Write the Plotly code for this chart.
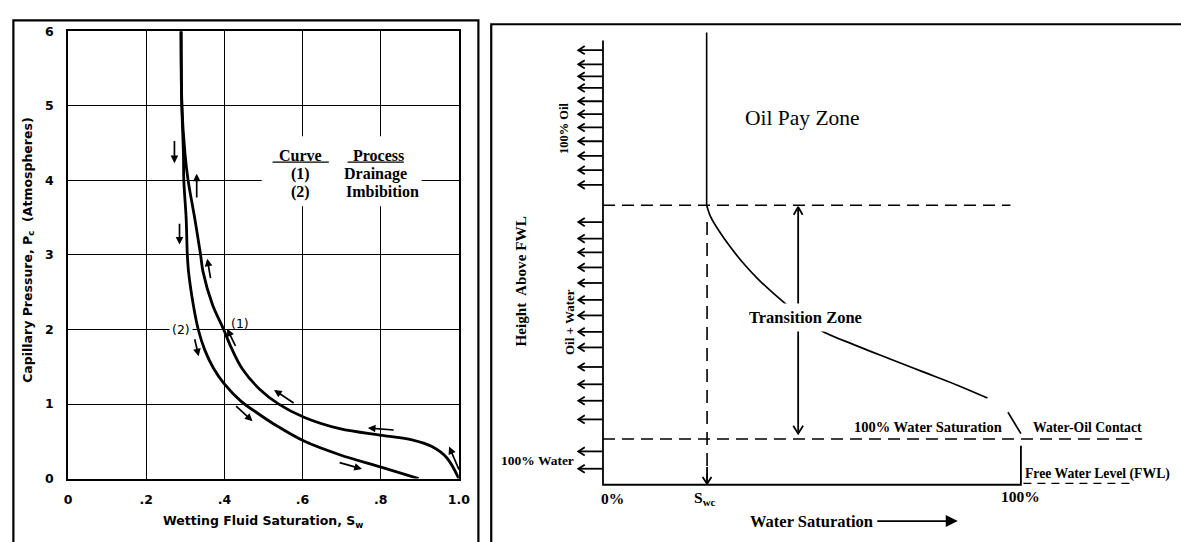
import math
import plotly.graph_objects as go

W, H = 1181, 542

# ---------------- Left panel: capillary pressure hysteresis ----------------
drain_sw = [0.289, 0.291, 0.299, 0.307, 0.324, 0.339, 0.345, 0.369, 0.398, 0.418, 0.446,
            0.490, 0.539, 0.605, 0.695, 0.803, 0.880, 0.931, 0.969, 1.000]
drain_pc = [6.0, 5.0, 4.36, 4.0, 3.49, 3.0, 2.78, 2.34, 2.0, 1.75, 1.47,
            1.20, 1.0, 0.82, 0.67, 0.58, 0.52, 0.43, 0.28, 0.0]

imb_sw = [0.289, 0.291, 0.295, 0.296, 0.302, 0.305, 0.308, 0.320, 0.333, 0.350, 0.372, 0.398,
          0.442, 0.484, 0.527, 0.605, 0.695, 0.803, 0.897]
imb_pc = [6.0, 5.0, 4.36, 4.0, 3.49, 3.0, 2.78, 2.34, 2.0, 1.72, 1.48, 1.28,
          1.04, 0.88, 0.73, 0.50, 0.32, 0.15, 0.0]

# direction arrows along the curves (tail -> head)
dir_tail_sw = [0.272, 0.329, 0.285, 0.365, 0.323, 0.430, 0.426, 0.581, 0.837, 0.691, 1.002]
dir_tail_pc = [4.55, 3.75, 3.44, 2.67, 1.89, 1.76, 0.99, 1.00, 0.65, 0.22, 0.10]
dir_head_sw = [0.272, 0.329, 0.285, 0.356, 0.334, 0.407, 0.472, 0.527, 0.767, 0.752, 0.975]
dir_head_pc = [4.23, 4.09, 3.14, 2.95, 1.64, 2.01, 0.77, 1.19, 0.68, 0.13, 0.43]

left_tick_vals = [0, 0.2, 0.4, 0.6, 0.8, 1.0]
left_tick_text = ["0", ".2", ".4", ".6", ".8", "1.0"]
pc_tick_vals = [0, 1, 2, 3, 4, 5, 6]

# ---------------- Right panel: saturation vs height ----------------
swc = 0.248
swc_dash_top = 59.1
swc_line_top = 101.8
axis_top_h = 100.0
h_transition_top = 62.9
h_woc = 10.3
top_dash_end_sw = 0.975
woc_dash_end_sw = 1.29
fwl_stub_top = 8.8
fwl_dash_sw = [1.006, 1.262]
fwl_dash_h = 0.3
zone_arrow_sw = 0.467
zone_arrow_top = 62.5
zone_arrow_bottom = 11.5

trans_sw = [0.248, 0.258, 0.277, 0.303, 0.339, 0.374, 0.437, 0.516, 0.609, 0.687, 0.766, 0.845, 0.920]
trans_h = [62.9, 60.2, 57.2, 53.7, 49.5, 46.0, 40.7, 35.0, 31.2, 28.3, 25.4, 22.5, 19.5]
trans_end_sw = [0.969, 1.0]
trans_end_h = [16.3, 11.5]

oil_arrow_h = [97.8, 94.6, 91.9, 89.3, 86.3, 83.4, 80.4, 77.3, 74.0, 70.8, 67.5]
mixed_arrow_h = [59.1, 55.4, 52.3, 48.9, 45.4, 41.6, 38.1, 34.4, 30.9, 26.5, 22.6, 18.9, 14.7]
water_arrow_h = [7.5, 3.6]
side_arrow_head_sw = -0.059

# ---------------- geometry ----------------
XL0, SXL, YL0, SYL = 65.0, 395.7, 484.0, 76.67   # left panel pixel mapping
XR0, SXR, YR0, SYR = 606.7, 423.3, 490.3, 4.57   # right panel pixel mapping


def P(px, py):
    return px / W, 1 - py / H


def vhead(xt, yt, xh, yh, length, half, stem=True):
    ptx, pty = xt * SXR, -yt * SYR
    phx, phy = xh * SXR, -yh * SYR
    dx, dy = phx - ptx, phy - pty
    n = math.hypot(dx, dy)
    ux, uy = dx / n, dy / n
    bx, by = phx - ux * length, phy - uy * length
    nx, ny = -uy, ux
    a1 = ((bx + nx * half) / SXR, -(by + ny * half) / SYR)
    a2 = ((bx - nx * half) / SXR, -(by - ny * half) / SYR)
    xs, ys = [], []
    if stem:
        xs += [xt, xh, None]
        ys += [yt, yh, None]
    xs += [a1[0], xh, a2[0], None]
    ys += [a1[1], yh, a2[1], None]
    return xs, ys


fig = go.Figure()
BLK = "black"

# left curves
fig.add_trace(go.Scatter(x=drain_sw, y=drain_pc, mode="lines", xaxis="x", yaxis="y",
                         line=dict(color=BLK, width=2.8, shape="spline", smoothing=1.0),
                         hoverinfo="skip", showlegend=False))
fig.add_trace(go.Scatter(x=imb_sw, y=imb_pc, mode="lines", xaxis="x", yaxis="y",
                         line=dict(color=BLK, width=2.8, shape="spline", smoothing=1.0),
                         hoverinfo="skip", showlegend=False))

# right: axis frame (left axis, bottom axis, 100% stub)
fig.add_trace(go.Scatter(x=[0, 0, 1, 1], y=[axis_top_h, 0, 0, fwl_stub_top], mode="lines",
                         xaxis="x2", yaxis="y2", line=dict(color=BLK, width=1.8),
                         hoverinfo="skip", showlegend=False))
# Swc solid line in the oil zone
fig.add_trace(go.Scatter(x=[swc, swc], y=[swc_line_top, h_transition_top], mode="lines",
                         xaxis="x2", yaxis="y2", line=dict(color=BLK, width=1.6),
                         hoverinfo="skip", showlegend=False))
# transition curve
fig.add_trace(go.Scatter(x=trans_sw, y=trans_h, mode="lines", xaxis="x2", yaxis="y2",
                         line=dict(color=BLK, width=1.7, shape="spline", smoothing=1.0),
                         hoverinfo="skip", showlegend=False))
fig.add_trace(go.Scatter(x=trans_end_sw, y=trans_end_h, mode="lines", xaxis="x2", yaxis="y2",
                         line=dict(color=BLK, width=1.7), hoverinfo="skip", showlegend=False))
# dashed lines
DASH = "12px,7px"
fig.add_trace(go.Scatter(x=[0, top_dash_end_sw], y=[h_transition_top, h_transition_top],
                         mode="lines", xaxis="x2", yaxis="y2",
                         line=dict(color=BLK, width=1.6, dash=DASH),
                         hoverinfo="skip", showlegend=False))
fig.add_trace(go.Scatter(x=[0, woc_dash_end_sw], y=[h_woc, h_woc], mode="lines",
                         xaxis="x2", yaxis="y2", line=dict(color=BLK, width=1.6, dash=DASH),
                         hoverinfo="skip", showlegend=False))
fig.add_trace(go.Scatter(x=[swc + 0.001, swc + 0.001], y=[swc_dash_top, 1.0], mode="lines",
                         xaxis="x2", yaxis="y2", line=dict(color=BLK, width=1.6, dash="13px,8px"),
                         hoverinfo="skip", showlegend=False))
fig.add_trace(go.Scatter(x=fwl_dash_sw, y=[fwl_dash_h, fwl_dash_h], mode="lines",
                         xaxis="x2", yaxis="y2", line=dict(color=BLK, width=1.3, dash="8px,6px"),
                         hoverinfo="skip", showlegend=False))

# open-headed arrows (right panel)
ax_all, ay_all = [], []
for h in oil_arrow_h + mixed_arrow_h + water_arrow_h:
    xs, ys = vhead(0, h, side_arrow_head_sw, h, 6.5, 4.2)
    ax_all += xs
    ay_all += ys
# double arrow across the transition zone
xs, ys = vhead(zone_arrow_sw, zone_arrow_bottom, zone_arrow_sw, zone_arrow_top, 8, 4.5)
ax_all += xs
ay_all += ys
xs, ys = vhead(zone_arrow_sw, zone_arrow_top, zone_arrow_sw, zone_arrow_bottom, 8, 5, stem=False)
ax_all += xs
ay_all += ys
# arrowhead of Swc dashed line
xs, ys = vhead(swc + 0.001, 4, swc + 0.001, 0.2, 7, 4.5, stem=True)
ax_all += xs
ay_all += ys
fig.add_trace(go.Scatter(x=ax_all, y=ay_all, mode="lines", xaxis="x2", yaxis="y2",
                         line=dict(color=BLK, width=1.8), hoverinfo="skip", showlegend=False))

annotations = []

# direction arrows on left panel
for ts, tp, hs, hp in zip(dir_tail_sw, dir_tail_pc, dir_head_sw, dir_head_pc):
    annotations.append(dict(x=hs, y=hp, ax=ts, ay=tp, xref="x", yref="y", axref="x", ayref="y",
                            text="", showarrow=True, arrowhead=2, arrowsize=0.9,
                            arrowwidth=1.7, arrowcolor=BLK))

SANS = "DejaVu Sans"
SERIF = "Liberation Serif"


def txt(px, py, text, size, family=SERIF, bold=True, xanchor="center", angle=0, bg=None, pad=1):
    x, y = P(px, py)
    d = dict(x=x, y=y, xref="paper", yref="paper", text=text, showarrow=False,
             xanchor=xanchor, yanchor="middle", textangle=angle, borderpad=pad,
             font=dict(family=family, size=size, color=BLK, weight=700 if bold else 400))
    if bg:
        d["bgcolor"] = bg
    annotations.append(d)


# left panel texts
txt(300, 151.7, "Curve", 16)
txt(351, 152, "Process", 16, xanchor="left")
txt(300, 170.7, "(1)", 16)
txt(342.7, 171, "Drainage", 16, xanchor="left")
txt(300, 189, "(2)", 16)
txt(344, 189, "Imbibition", 16, xanchor="left")
txt(179, 330.3, "(2)", 12.5, family=SANS, bold=False, bg="white", pad=2)
txt(239, 324.5, "(1)", 12.5, family=SANS, bold=False)
txt(262.5, 528, "Wetting Fluid Saturation, S<sub>w</sub>", 12.5, family=SANS)
txt(24, 249, "Capillary Pressure, P<sub>c</sub>  (Atmospheres)", 12.5, family=SANS, angle=-90)

# right panel texts
txt(748.3, 113.3, "Oil Pay Zone", 21.5, bold=False, xanchor="left")
txt(750, 318, "Transition Zone", 16.5, xanchor="left", bg="white", pad=4)
txt(859, 431, "100% Water Saturation", 14.5, xanchor="left")
txt(1040, 431, "Water-Oil Contact", 13.7, xanchor="left")
txt(1032, 479.3, "Free Water Level (FWL)", 13.7, xanchor="left")
txt(1029.3, 502.7, "100%", 15.5)
txt(616, 504.3, "0%", 15.5)
txt(710, 504, "S<sub>wc</sub>", 15.5)
txt(754, 527.7, "Water Saturation", 16.5, xanchor="left")
txt(523, 281, "Height  Above FWL", 15.2, angle=-90)
txt(566.7, 124, "100% Oil", 12.5, angle=-90)
txt(572.3, 323, "Oil + Water", 13, angle=-90)
txt(579, 465, "100% Water", 13.5, xanchor="right")

# Water Saturation arrow
hx, hy = P(966, 527.7)
annotations.append(dict(x=hx, y=hy, xref="paper", yref="paper", ax=-82, ay=0, text="",
                        showarrow=True, arrowhead=2, arrowsize=1.5, arrowwidth=1.6,
                        arrowcolor=BLK))

shapes = []
# legend white box on left panel (covers gridlines)
shapes.append(dict(type="rect", xref="x", yref="y",
                   x0=(261 - XL0) / SXL, x1=(423 - XL0) / SXL,
                   y0=(YL0 - 204) / SYL, y1=(YL0 - 132) / SYL,
                   fillcolor="white", line=dict(width=0), layer="between"))
# underlines for Curve / Process
for x0p, x1p in [(272, 329), (348, 405)]:
    a = P(x0p, 158.5)
    b = P(x1p, 158.5)
    shapes.append(dict(type="line", xref="paper", yref="paper", x0=a[0], y0=a[1], x1=b[0],
                       y1=b[1], line=dict(color=BLK, width=1.2)))
# outer frames
a = P(9.5, 12.7)
b = P(480.5, 560)
shapes.append(dict(type="rect", xref="paper", yref="paper", x0=a[0], y0=b[1], x1=b[0], y1=a[1],
                   line=dict(color=BLK, width=2.2), fillcolor="rgba(0,0,0,0)"))
a = P(493.5, 16.7)
b = P(1200, 560)
shapes.append(dict(type="rect", xref="paper", yref="paper", x0=a[0], y0=b[1], x1=b[0], y1=a[1],
                   line=dict(color=BLK, width=2.2), fillcolor="rgba(0,0,0,0)"))

fig.update_layout(
    width=W, height=H, autosize=False,
    margin=dict(l=0, r=0, t=0, b=0, pad=0),
    paper_bgcolor="white", plot_bgcolor="rgba(0,0,0,0)",
    showlegend=False,
    xaxis=dict(domain=[XL0 / W, (XL0 + SXL) / W], range=[0, 1], anchor="y",
               tickvals=left_tick_vals, ticktext=left_tick_text,
               showgrid=True, gridcolor=BLK, gridwidth=1.4, zeroline=False,
               showline=True, mirror=True, linecolor=BLK, linewidth=2, ticks="",
               ticklabelstandoff=8,
               tickfont=dict(family=SANS, size=12.5, color=BLK, weight=700)),
    yaxis=dict(domain=[(H - YL0) / H, (H - (YL0 - 6 * SYL)) / H], range=[0, 6], anchor="x",
               tickvals=pc_tick_vals, showgrid=True, gridcolor=BLK, gridwidth=1.4,
               zeroline=False, showline=True, mirror=True, linecolor=BLK, linewidth=2,
               ticks="", ticklabelstandoff=10,
               tickfont=dict(family=SANS, size=12.5, color=BLK, weight=700)),
    xaxis2=dict(domain=[485 / W, 1], range=[(485 - XR0) / SXR, (W - XR0) / SXR], anchor="y2",
                visible=False, showgrid=False, zeroline=False),
    yaxis2=dict(domain=[0, 1], range=[(YR0 - H) / SYR, YR0 / SYR], anchor="x2",
                visible=False, showgrid=False, zeroline=False),
    annotations=annotations,
    shapes=shapes,
)

fig.write_html("out.html")
